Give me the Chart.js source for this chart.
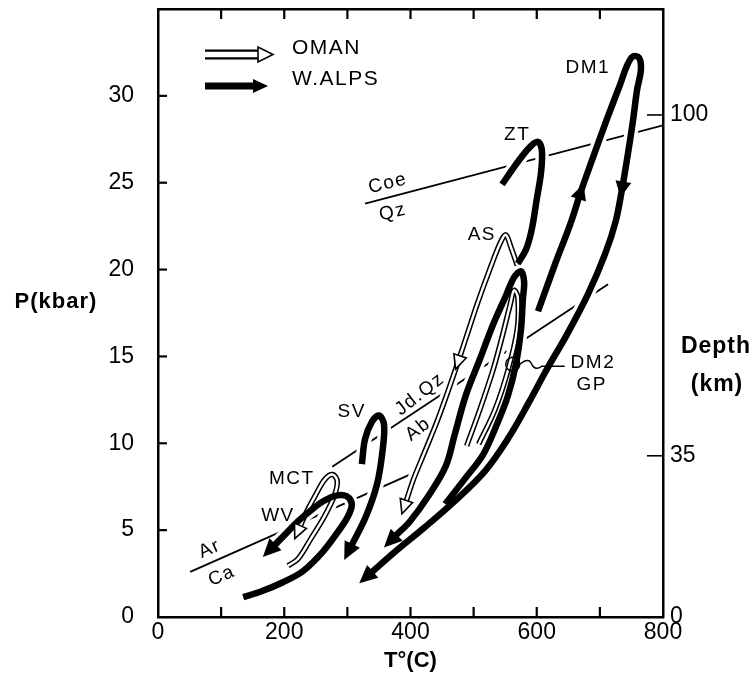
<!DOCTYPE html>
<html>
<head>
<meta charset="utf-8">
<script src="https://cdn.jsdelivr.net/npm/chart.js@4.4.1/dist/chart.umd.min.js"></script>
<style>
  html, body { margin: 0; padding: 0; background: #fff; }
  canvas { display: block; }
</style>
</head>
<body>
<canvas id="ptChart" width="756" height="686"></canvas>
<script>
// P-T paths: T in degrees C, P in kbar

// W.Alps (filled arrows)
const dm1T = [602, 630, 653, 670, 688, 711, 732, 743, 752, 762, 765, 759, 752, 743, 735, 725, 708, 681, 648, 616, 586, 554, 518, 470, 423, 375, 339];
const dm1P = [17.6, 20.41, 22.6, 24.5, 26.34, 28.64, 30.65, 31.74, 32.26, 32.2, 31.5, 30.36, 28.46, 26.34, 24.61, 22.77, 20.87, 18.57, 16.27, 14.26, 12.25, 10.24, 8.4, 6.67, 5.18, 3.74, 2.59];
const gpT = [455, 486, 515, 537, 554, 567, 575, 578, 580, 575, 564, 550, 531, 510, 488, 470, 456, 428, 399, 377];
const gpP = [6.5, 7.95, 9.35, 11.1, 12.7, 14.55, 16.55, 18.3, 19.3, 19.9, 19.55, 18.4, 16.85, 14.85, 12.8, 10.5, 8.7, 6.95, 5.5, 4.7];
const ztT = [545, 569, 589, 602, 608, 607, 600, 592, 583, 570];
const ztP = [24.9, 26.15, 27.05, 27.35, 26.9, 25.65, 24.05, 22.3, 21.15, 20.35];
const svT = [323, 328, 339, 350, 358, 356, 347, 329, 307];
const svP = [8.8, 10.25, 11.25, 11.6, 11.1, 9.65, 7.65, 5.75, 4.15];
const wvT = [135, 162, 198, 230, 261, 285, 301, 307, 299, 284, 261, 241, 220, 200, 185];
const wvP = [1.15, 1.45, 2.0, 2.65, 3.75, 4.9, 5.8, 6.5, 6.95, 7.0, 6.65, 6.1, 5.45, 4.7, 4.15];

// Oman (open arrows)
const asT = [569, 559, 551, 543, 527, 507, 491, 475, 459, 442, 423, 405, 393];
const asP = [20.25, 21.3, 22.0, 21.6, 20.15, 18.15, 16.4, 14.65, 12.95, 11.25, 9.55, 7.95, 6.65];
const mctT = [206, 222, 242, 263, 279, 284, 277, 265, 250, 236, 225];
const mctP = [2.95, 3.35, 4.5, 5.75, 6.95, 7.8, 8.2, 7.95, 7.05, 6.1, 5.2];
const dm2T = [489, 510, 531, 546, 558, 564, 570, 569, 554, 534, 508];
const dm2P = [9.85, 11.95, 14.25, 16.25, 18.0, 18.8, 18.4, 16.55, 14.15, 11.95, 9.95];

// reaction lines
const coeT = [328, 800];
const coeP = [23.8, 28.3];
const jdT = [276, 713];
const jdP = [8.65, 19.15];
const arT = [51, 399];
const arP = [2.6, 8.2];

// DM2 / GP sample point
const dm2PointT = 562;
const dm2PointP = 14.55;

// depth axis (km) and matching pressure
const depthKm = ['0', '35', '100'];
const depthP = [0, 9.28, 28.9];

// text labels in the plot
const labelText = ['Coe', 'Qz', 'ZT', 'DM1', 'AS', 'Jd.Qz', 'Ab', 'SV', 'MCT', 'WV', 'Ar', 'Ca', 'DM2', 'GP'];
const labelT = [364, 372, 569, 681, 513, 415, 412, 307, 212, 190, 82, 101, 689, 687];
const labelP = [24.96, 23.29, 27.77, 31.63, 22.02, 12.82, 10.81, 11.79, 7.94, 5.81, 3.91, 2.36, 14.66, 13.34];
const labelRot = [-14, -14, 0, 0, 0, -38, -38, 0, 0, 0, -24, -24, 0, 0];

const FONT = "'Liberation Sans', Arial, Helvetica, sans-serif";

const toXY = (t, p) => t.map((v, i) => ({ x: v, y: p[i] }));

const paths = [
  { t: dm1T, p: dm1P, kind: 'alps', head: true, mid: [3, 14] },
  { t: gpT, p: gpP, kind: 'alps', head: true, mid: [] },
  { t: ztT, p: ztP, kind: 'alps', head: false, mid: [] },
  { t: svT, p: svP, kind: 'alps', head: true, mid: [] },
  { t: wvT, p: wvP, kind: 'alps', head: true, mid: [] },
  { t: asT, p: asP, kind: 'oman', head: true, mid: [7] },
  { t: mctT, p: mctP, kind: 'oman', head: true, mid: [] },
  { t: dm2T, p: dm2P, kind: 'oman', head: false, mid: [] }
];

const base = { showLine: true, pointRadius: 0, fill: false, borderCapStyle: 'butt', borderJoinStyle: 'round' };
const datasets = [];

[[coeT, coeP], [jdT, jdP], [arT, arP]].forEach(([t, p]) => {
  datasets.push({ ...base, data: toXY(t, p), borderColor: '#000', borderWidth: 1.8, tension: 0, order: 100 });
});

paths.forEach(path => {
  const w = path.kind === 'alps' ? 6.5 : 5.5;
  const data = toXY(path.t, path.p);
  // white halo, breaks the thin reaction lines where paths cross them
  datasets.push({ ...base, data, borderColor: '#fff', borderWidth: w + 7, tension: 0.35, order: 50 });
  path.ds = datasets.length;
  datasets.push({ ...base, data, borderColor: '#000', borderWidth: w, tension: 0.35, order: path.kind === 'alps' ? 10 : 30 });
  if (path.kind === 'oman') {
    datasets.push({ ...base, data, borderColor: '#fff', borderWidth: 2.4, tension: 0.35, order: 29 });
  }
});

function head(ctx, x, y, ang, back, len, half, open) {
  ctx.save();
  ctx.translate(x, y);
  ctx.rotate(ang);
  ctx.beginPath();
  ctx.moveTo(back + len, 0);
  ctx.lineTo(back, -half);
  ctx.lineTo(back, half);
  ctx.closePath();
  if (open) {
    ctx.fillStyle = '#fff';
    ctx.fill();
    ctx.lineWidth = 1.6;
    ctx.strokeStyle = '#000';
    ctx.stroke();
  } else {
    ctx.fillStyle = '#000';
    ctx.fill();
  }
  ctx.restore();
}

const decor = {
  id: 'decor',
  afterDatasetsDraw(chart) {
    const ctx = chart.ctx;
    const xs = chart.scales.x, ys = chart.scales.y;

    paths.forEach(path => {
      const pts = chart.getDatasetMeta(path.ds).data;
      const open = path.kind === 'oman';
      const len = open ? 14 : 18, half = open ? 6.5 : 8.5;
      if (path.head) {
        const a = pts[pts.length - 2], b = pts[pts.length - 1];
        head(ctx, b.x, b.y, Math.atan2(b.y - a.y, b.x - a.x), -1, len, half, open);
      }
      path.mid.forEach(i => {
        const a = pts[i - 1], b = pts[i + 1], c = pts[i];
        const l = open ? 14 : 16;
        head(ctx, c.x, c.y, Math.atan2(b.y - a.y, b.x - a.x), -l / 2, l, open ? 6.5 : 8, open);
      });
    });

    // DM2 sample circle with wavy leader
    const cx = xs.getPixelForValue(dm2PointT), cy = ys.getPixelForValue(dm2PointP);
    ctx.save();
    ctx.strokeStyle = '#000';
    ctx.lineWidth = 1.5;
    ctx.beginPath();
    ctx.arc(cx, cy, 7, 0, Math.PI * 2);
    ctx.stroke();
    ctx.beginPath();
    ctx.moveTo(cx + 7, cy);
    ctx.bezierCurveTo(cx + 13, cy - 5, cx + 17, cy - 5, cx + 19, cy);
    ctx.bezierCurveTo(cx + 21, cy + 5, cx + 25, cy + 5, cx + 29, cy + 2);
    ctx.lineTo(cx + 52, cy + 2);
    ctx.stroke();
    ctx.restore();

    // plot labels
    ctx.save();
    ctx.fillStyle = '#000';
    ctx.font = '19px ' + FONT;
    ctx.letterSpacing = '1.5px';
    ctx.textAlign = 'center';
    ctx.textBaseline = 'middle';
    labelText.forEach((txt, i) => {
      ctx.save();
      ctx.translate(xs.getPixelForValue(labelT[i]), ys.getPixelForValue(labelP[i]));
      ctx.rotate(labelRot[i] * Math.PI / 180);
      ctx.fillText(txt, 0, 0);
      ctx.restore();
    });
    ctx.restore();
  },
  afterDraw(chart) {
    const ctx = chart.ctx;
    const ca = chart.chartArea;
    const xs = chart.scales.x, ys = chart.scales.y, yr = chart.scales.yR;
    ctx.save();
    ctx.strokeStyle = '#000';

    // inward tick marks
    ctx.lineWidth = 2.2;
    xs.ticks.forEach(tk => {
      if (tk.value <= 0 || tk.value >= 800) return;
      const px = xs.getPixelForValue(tk.value);
      ctx.beginPath();
      ctx.moveTo(px, ca.bottom); ctx.lineTo(px, ca.bottom - 10);
      ctx.moveTo(px, ca.top); ctx.lineTo(px, ca.top + 10);
      ctx.stroke();
    });
    ys.ticks.forEach(tk => {
      if (tk.value <= 0 || tk.value >= 35) return;
      const py = ys.getPixelForValue(tk.value);
      ctx.beginPath();
      ctx.moveTo(ca.left, py); ctx.lineTo(ca.left + 9, py);
      ctx.stroke();
    });
    ctx.lineWidth = 1.6;
    yr.ticks.forEach(tk => {
      if (tk.value <= 0) return;
      const py = yr.getPixelForValue(tk.value);
      ctx.beginPath();
      ctx.moveTo(ca.right, py); ctx.lineTo(ca.right - 16, py);
      ctx.stroke();
    });

    // legend
    ctx.lineWidth = 10;
    ctx.beginPath(); ctx.moveTo(205, 54.5); ctx.lineTo(259, 54.5); ctx.stroke();
    ctx.strokeStyle = '#fff';
    ctx.lineWidth = 5.5;
    ctx.beginPath(); ctx.moveTo(204, 54.5); ctx.lineTo(259, 54.5); ctx.stroke();
    head(ctx, 258, 54.5, 0, 0, 15, 7.5, true);
    ctx.strokeStyle = '#000';
    ctx.lineWidth = 7;
    ctx.beginPath(); ctx.moveTo(205, 86); ctx.lineTo(255, 86); ctx.stroke();
    head(ctx, 253, 86, 0, 0, 15, 7, false);

    ctx.fillStyle = '#000';
    ctx.textBaseline = 'middle';
    ctx.textAlign = 'left';
    ctx.font = '21px ' + FONT;
    ctx.letterSpacing = '1.5px';
    ctx.fillText('OMAN', 292, 48);
    ctx.fillText('W.ALPS', 292, 79);

    // axis titles drawn horizontally
    ctx.font = 'bold 22px ' + FONT;
    ctx.letterSpacing = '1px';
    ctx.textAlign = 'center';
    ctx.fillText('P(kbar)', 56, 302);
    ctx.font = 'bold 23px ' + FONT;
    ctx.fillText('Depth', 716, 347);
    ctx.fillText('(km)', 717, 385);
    ctx.restore();
  }
};

const tickFont = { family: FONT, size: 23 };
const frame = { display: true, color: '#000', width: 2.5 };
const noGrid = { display: false, drawTicks: false };
const noPad = s => { s.paddingLeft = 0; s.paddingRight = 0; s.paddingTop = 0; s.paddingBottom = 0; };

new Chart(document.getElementById('ptChart'), {
  type: 'scatter',
  data: { datasets },
  options: {
    responsive: false,
    devicePixelRatio: 1,
    animation: false,
    events: [],
    layout: { padding: 0 },
    plugins: { legend: { display: false }, tooltip: { enabled: false } },
    scales: {
      x: {
        type: 'linear', position: 'bottom', min: 0, max: 800,
        ticks: { stepSize: 100, autoSkip: false, maxRotation: 0, padding: 2, color: '#000', font: tickFont,
          callback: v => (v % 200 === 0 ? v : '') },
        grid: noGrid, border: frame,
        title: { display: true, text: 'T°(C)', color: '#000', font: { family: FONT, size: 22, weight: 'bold' }, padding: { top: 0, bottom: 12 } },
        afterFit: s => { s.height = 69; noPad(s); }
      },
      xTop: {
        type: 'linear', position: 'top', min: 0, max: 800,
        ticks: { display: false, stepSize: 100 },
        grid: noGrid, border: frame,
        afterFit: s => { s.height = 9; noPad(s); }
      },
      y: {
        type: 'linear', position: 'left', min: 0, max: 35,
        ticks: { stepSize: 5, padding: 24, color: '#000', font: tickFont,
          callback: v => (v === 35 ? '' : v) },
        grid: noGrid, border: frame,
        afterFit: s => { s.width = 158; noPad(s); }
      },
      yR: {
        type: 'linear', position: 'right', min: 0, max: 35,
        afterBuildTicks: s => { s.ticks = depthP.map(v => ({ value: v })); },
        ticks: { padding: 7, color: '#000', font: tickFont,
          callback: v => depthKm[depthP.indexOf(v)] },
        grid: noGrid, border: frame,
        afterFit: s => { s.width = 93; noPad(s); }
      }
    }
  },
  plugins: [decor]
});
</script>
</body>
</html>
